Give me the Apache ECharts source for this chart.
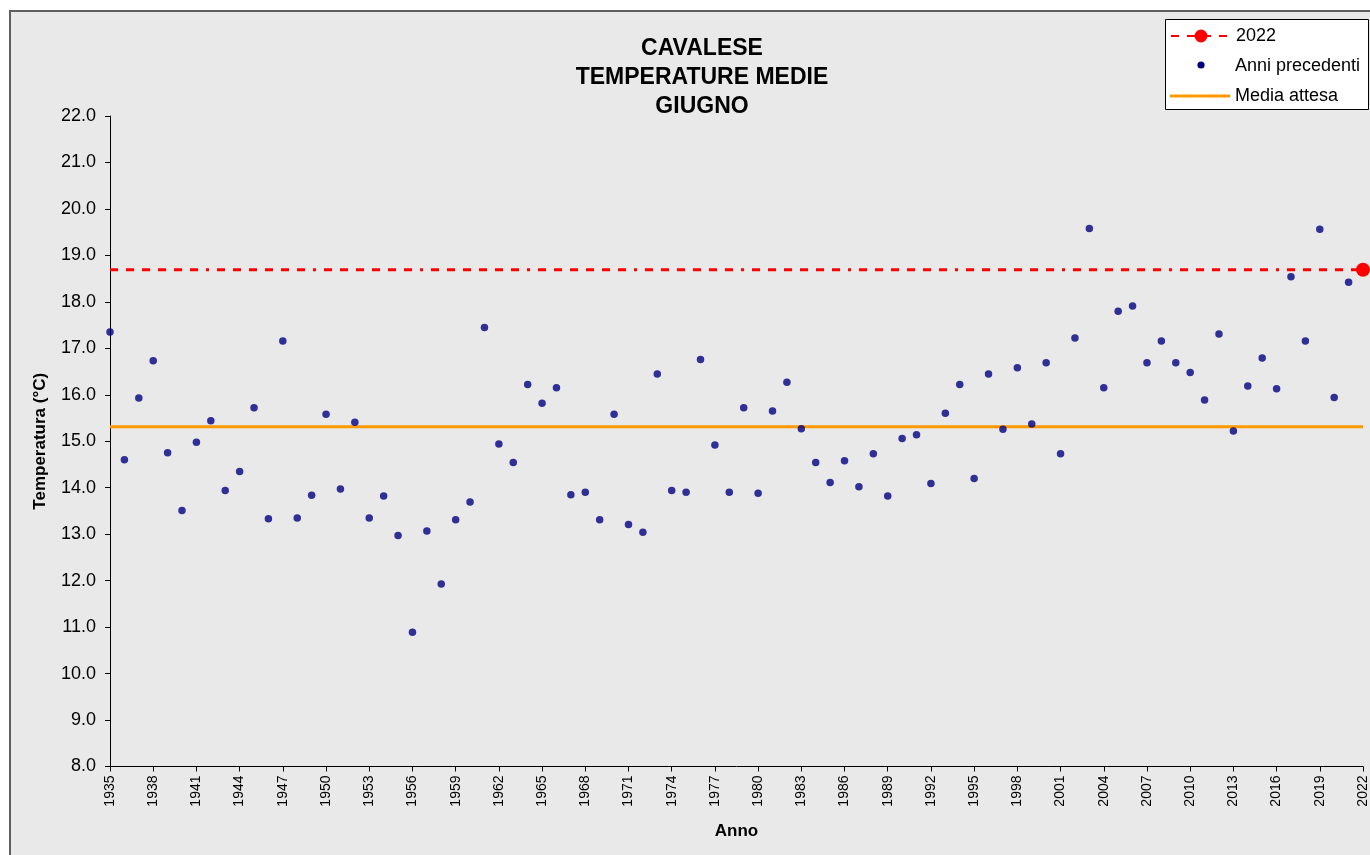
<!DOCTYPE html>
<html>
<head>
<meta charset="utf-8">
<title>Cavalese - temperature medie giugno</title>
<script src="https://cdn.jsdelivr.net/npm/echarts@6/dist/echarts.min.js"></script>
<style>
  html, body { margin: 0; padding: 0; background: #ffffff; }
  #chart { width: 1370px; height: 855px; }
</style>
</head>
<body>
<div id="chart"></div>
<script>
  // anni e temperature medie di giugno (°C)
  var firstYear = 1935;
  var temps = [
    17.35, 14.60, 15.93, 16.73, 14.75, 13.51, 14.98, 15.44, 13.94, 14.35,
    15.72, 13.33, 17.16, 13.35, 13.84, 15.58, 13.97, 15.41, 13.35, 13.82,
    12.97, 10.89, 13.07, 11.93, 13.31, 13.69, 17.45, 14.94, 14.54, 16.22,
    15.82, 16.15, 13.85, 13.90, 13.31, 15.58, 13.21, 13.04, 16.45, 13.94,
    13.90, 16.76, 14.92, 13.90, 15.72, 13.88, 15.65, 16.27, 15.27, 14.54,
    14.11, 14.58, 14.02, 14.73, 13.82, 15.06, 15.14, 14.09, 15.60, 16.22,
    14.20, 16.45, 15.26, 16.58, 15.37, 16.69, 14.73, 17.22, 19.58, 16.15,
    17.80, 17.91, 16.69, 17.16, 16.69, 16.48, 15.89, 17.31, 15.22, 16.19,
    16.79, 16.13, 18.54, 17.16, 19.56, 15.94, 18.42
  ];
  var currentYear = 2022;
  var currentTemp = 18.69;
  var mediaAttesa = 15.31;

  var yMin = 8, yMax = 22, yStep = 1;
  var xStep = 3;

  var fontFam = '"Liberation Sans", Arial, sans-serif';
  var navy = '#000080';

  // coppie [anno, valore] per lo scatter
  var previous = temps.map(function (v, i) { return [firstYear + i, v]; });

  var chart = echarts.init(document.getElementById('chart'));

  chart.setOption({
    backgroundColor: '#ffffff',
    textStyle: { fontFamily: fontFam },
    animation: false,
    graphic: [
      {
        type: 'rect', z: -1,
        shape: { x: 10, y: 11, width: 1380, height: 870 },
        style: { fill: '#e9e9e9', stroke: '#5f5f5f', lineWidth: 2 }
      },
      {
        type: 'rect', z: 5,
        shape: { x: 1165.5, y: 19.5, width: 203, height: 90 },
        style: { fill: '#ffffff', stroke: '#000000', lineWidth: 1 }
      },
      // pallino della legenda "Anni precedenti"
      {
        type: 'circle', z: 12,
        shape: { cx: 1201, cy: 65, r: 3.6 },
        style: { fill: navy }
      }
    ],
    title: {
      text: 'CAVALESE\nTEMPERATURE MEDIE\nGIUGNO',
      left: 697,
      top: 29,
      textAlign: 'center',
      textStyle: {
        fontFamily: fontFam, fontSize: 23, fontWeight: 'bold',
        color: '#000000', lineHeight: 29
      }
    },
    legend: [
      {
        data: ['2022'], orient: 'vertical', left: 1170, top: 27, padding: 0,
        itemWidth: 60, itemHeight: 16, z: 10,
        textStyle: { fontFamily: fontFam, fontSize: 18, color: '#000000' }
      },
      {
        data: [{ name: 'Anni precedenti', icon: 'rect', itemStyle: { opacity: 0 } }],
        orient: 'vertical', left: 1170, top: 57, padding: 0,
        itemWidth: 60, itemHeight: 7, z: 10,
        textStyle: { fontFamily: fontFam, fontSize: 18, color: '#000000' }
      },
      {
        data: [{ name: 'Media attesa', icon: 'rect' }], orient: 'vertical',
        left: 1170, top: 87, padding: 0, itemWidth: 60, itemHeight: 3, z: 10,
        textStyle: { fontFamily: fontFam, fontSize: 18, color: '#000000' }
      }
    ],
    grid: { left: 110, right: 5, top: 116, bottom: 88.5 },
    xAxis: {
      type: 'value',
      min: firstYear,
      max: currentYear,
      interval: xStep,
      name: 'Anno',
      nameLocation: 'middle',
      nameGap: 56,
      nameTextStyle: { fontFamily: fontFam, fontSize: 17, fontWeight: 'bold', color: '#000000' },
      axisLine: { lineStyle: { color: '#000000', width: 1 } },
      axisTick: { length: 5, lineStyle: { color: '#000000' } },
      splitLine: { show: false },
      axisLabel: {
        rotate: 90, color: '#000000', fontSize: 14, margin: 9,
        fontFamily: fontFam,
        formatter: function (v) { return String(v); }
      }
    },
    yAxis: {
      type: 'value',
      min: yMin,
      max: yMax,
      interval: yStep,
      name: 'Temperatura (°C)',
      nameLocation: 'middle',
      nameGap: 61,
      nameTextStyle: { fontFamily: fontFam, fontSize: 17, fontWeight: 'bold', color: '#000000' },
      axisLine: { show: true, lineStyle: { color: '#000000', width: 1 } },
      axisTick: { show: true, length: 5, lineStyle: { color: '#000000' } },
      splitLine: { show: false },
      axisLabel: {
        color: '#000000', fontSize: 18, margin: 14, fontFamily: fontFam,
        formatter: function (v) { return v.toFixed(1); }
      }
    },
    series: [
      {
        name: '2022',
        type: 'line',
        symbol: 'circle',
        symbolSize: 14,
        clip: false,
        z: 4,
        itemStyle: { color: '#ff0000' },
        lineStyle: { color: '#ff0000', width: 3, type: [8, 8, 8, 8, 8, 8, 8, 8, 8, 8, 8, 8, 3, 8] },
        data: [
          { value: [firstYear, currentTemp], symbol: 'none' },
          [currentYear, currentTemp]
        ]
      },
      {
        name: 'Anni precedenti',
        type: 'scatter',
        symbol: 'circle',
        symbolSize: 7.5,
        z: 5,
        itemStyle: { color: navy },
        data: previous
      },
      {
        name: 'Media attesa',
        type: 'line',
        symbol: 'none',
        z: 3,
        itemStyle: { color: '#ff9900' },
        lineStyle: { color: '#ff9900', width: 3 },
        data: [[firstYear, mediaAttesa], [currentYear, mediaAttesa]]
      }
    ]
  });
</script>
</body>
</html>
